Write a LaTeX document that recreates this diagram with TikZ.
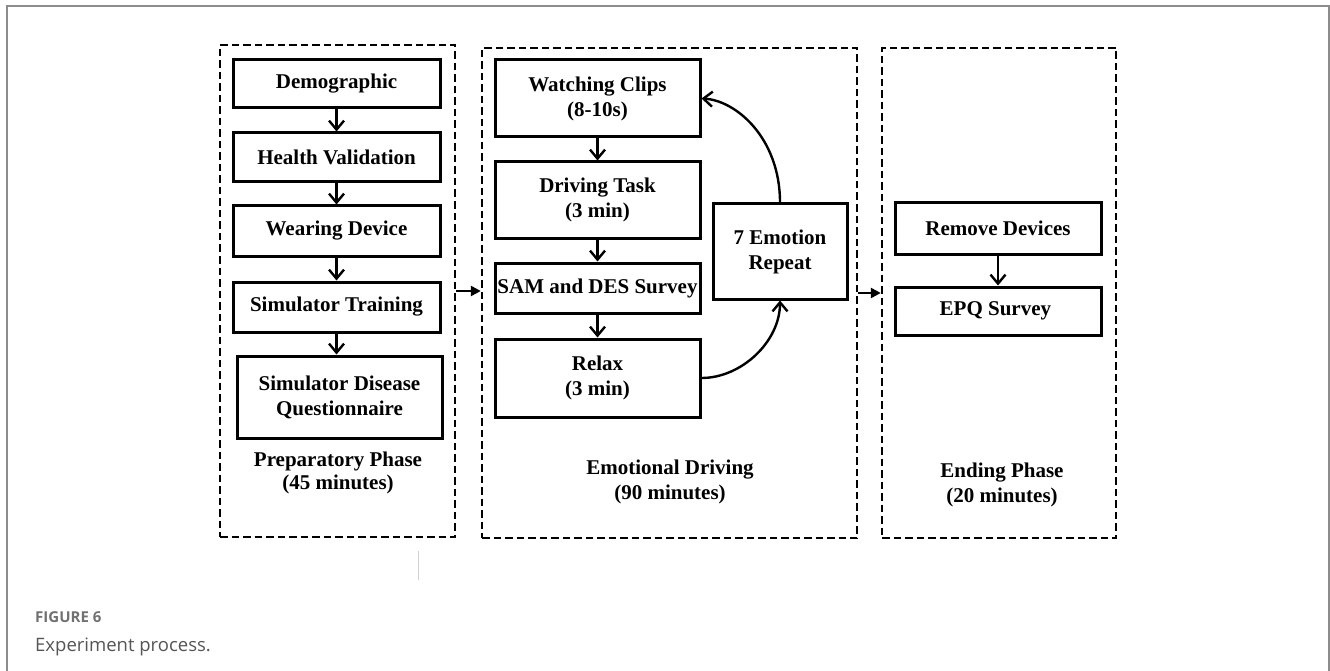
\documentclass[tikz,border=0pt]{standalone}
\usepackage{fontspec}
\setmainfont{Liberation Serif}
\newfontfamily\capfont{Open Sans}
\usetikzlibrary{arrows.meta}

\definecolor{framegray}{HTML}{8C8C8C}
\definecolor{capgray}{HTML}{707070}
\definecolor{textgray}{HTML}{555555}
\definecolor{rulegray}{HTML}{D0D0D0}

\begin{document}
\begin{tikzpicture}[x=1pt, y=-1pt,
    nodes = {font=\bfseries\fontsize{21}{25}\selectfont, align=center},
    stepbox/.style = {draw, line width=3pt, inner sep=1pt},
    phasebox/.style = {draw, line width=2.4pt, dash pattern=on 7.5pt off 4pt},
    flow/.style = {line width=2.4pt, -{Straight Barb[length=9pt,width=15pt]}},
    link/.style = {line width=2.4pt, -{Triangle[length=10pt,width=10pt]}}]

  \useasboundingbox (0,0) rectangle (1330,671);
  % page frame
  \draw[framegray, line width=1.6pt] (7,671) -- (7,6) -- (1329,6) -- (1329,671);

  % the three phases
  \node[phasebox, minimum width=235pt, minimum height=492pt] (prep) at (337.5,291) {};
  \node[phasebox, minimum width=375pt, minimum height=490pt] (emo) at (669.5,293) {};
  \node[phasebox, minimum width=234pt, minimum height=490pt] (ending) at (999,293) {};

  % boxes: name / x / y / width / height / text
  \foreach \name/\x/\y/\w/\h/\txt in {
      demo/336.5/84/207/48/Demographic,
      health/336.5/157.5/207/49/Health Validation,
      wear/336.5/231/207/50/Wearing Device,
      simtrain/336.5/307/207/50/Simulator Training,
      sdq/339.5/397/205/82/{Simulator Disease\\Questionnaire},
      clips/597.5/98.5/205/77/{Watching Clips\\(8-10s)},
      drive/597.5/200/205/76/{Driving Task\\(3 min)},
      sam/597.5/288/205/50/SAM and DES Survey,
      relax/597.5/378/205/78/{Relax\\(3 min)},
      repeat/780/251.5/134/95/{7 Emotion\\Repeat},
      remove/998/228.5/206/51/Remove Devices,
      epq/998/311/206/48/EPQ Survey
    } {
      \node[stepbox, minimum width=\w*1pt, minimum height=\h*1pt] (\name) at (\x,\y) {\txt};
    };

  % phase labels
  \node (preplabel) at (338,473) {Preparatory Phase\\[-2pt](45 minutes)};
  \node (emolabel) at (670,482) {Emotional Driving\\(90 minutes)};
  \node (endlabel) at (1002,485) {Ending Phase\\(20 minutes)};

  % arrows inside the phases
  \foreach \a/\b in {demo/health, health/wear, wear/simtrain,
      clips/drive, drive/sam, sam/relax, remove/epq}
    \draw[flow] (\a.south) -- (\b.north);
  \draw[flow] (simtrain.south) -- (simtrain.south |- sdq.north);
  \draw[flow] (repeat.north) .. controls +(0,-64) and +(35,2) .. (clips.east);
  \draw[flow] (relax.east) .. controls +(40,0) and +(0,41) .. (repeat.south);

  % arrows between the phases
  \draw[link] (prep.east) -- (prep.east -| emo.west);
  \draw[link] (emo.east) -- (emo.east -| ending.west);

  % caption
  \draw[rulegray, line width=1pt] (418,551) -- (418,580);
  \node[font=\capfont\bfseries\fontsize{15}{18}\selectfont, text=capgray,
    anchor=west, inner sep=0pt] (figno) at (35,617) {FIGURE 6};
  \node[font=\capfont\fontsize{18.5}{22}\selectfont, text=textgray,
    anchor=west, inner sep=0pt] (figcap) at (35,647) {Experiment process.};
\end{tikzpicture}
\end{document}
